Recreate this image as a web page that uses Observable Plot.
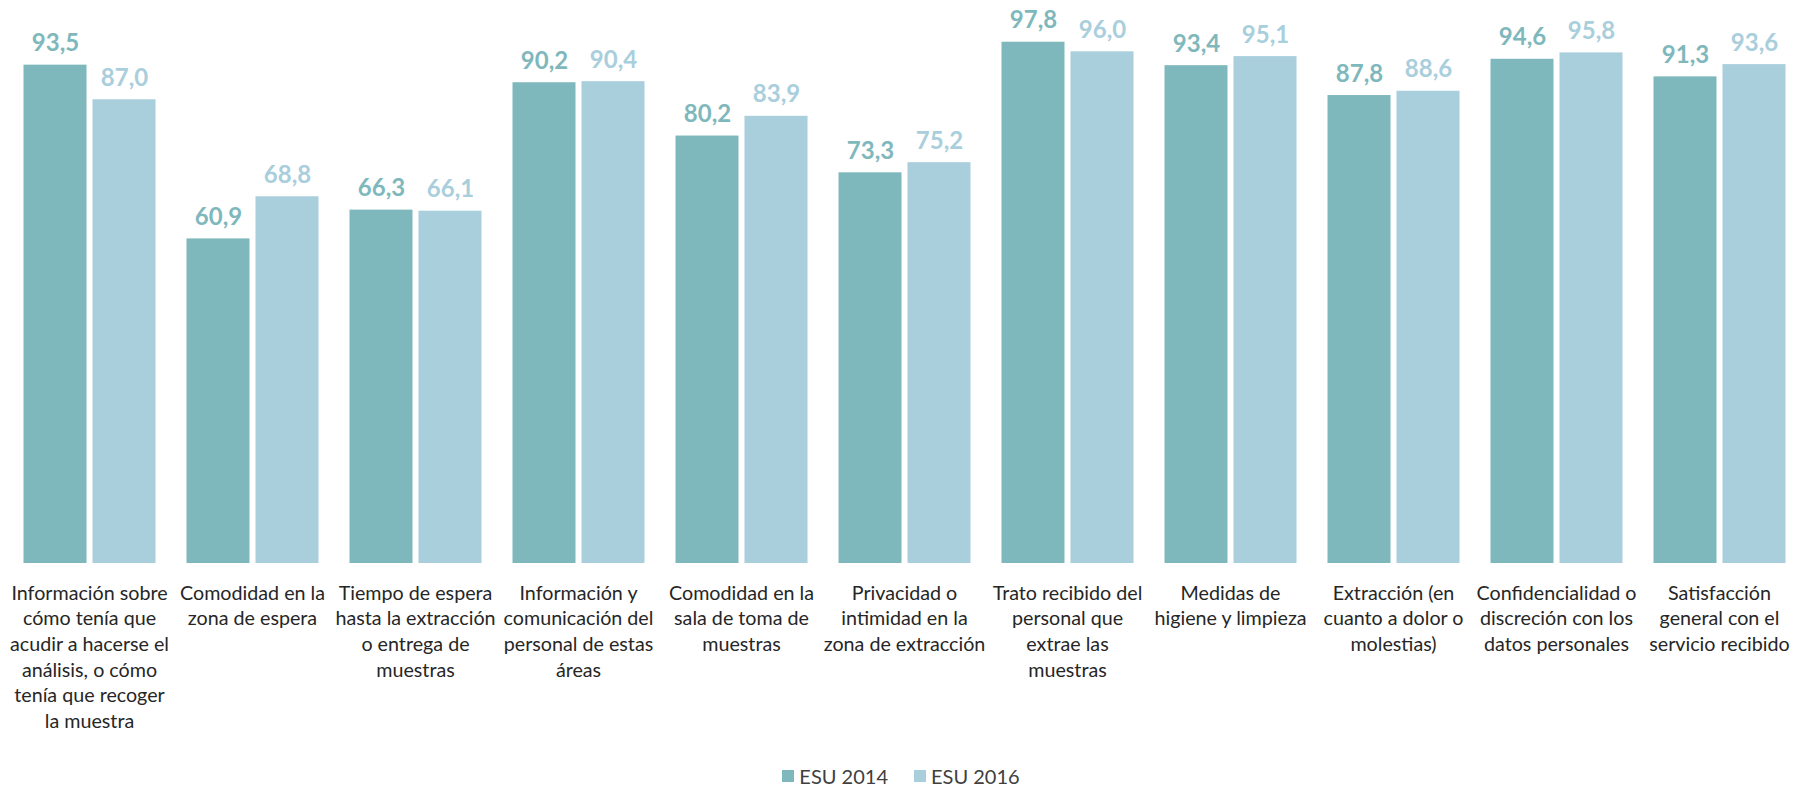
<!DOCTYPE html>
<html><head><meta charset="utf-8">
<script src="https://cdn.jsdelivr.net/npm/d3@7"></script>
<script src="https://cdn.jsdelivr.net/npm/@observablehq/plot@0.6"></script>
<style>
html,body{margin:0;padding:0;background:#fff;}
#chart svg{display:block;}
#legend{height:40px;display:flex;justify-content:center;align-items:flex-start;font-family:Lato,sans-serif;font-size:20px;color:#404040;}
#legend .item{display:flex;align-items:center;margin:0 13px;line-height:24px;margin-top:16px;}
#legend .sw{width:12px;height:12px;margin-right:5px;display:inline-block;}
</style></head><body>
<div id="chart"></div>
<div id="legend"></div>
<script>
const categories = [
  "Información sobre\ncómo tenía que\nacudir a hacerse el\nanálisis, o cómo\ntenía que recoger\nla muestra",
  "Comodidad en la\nzona de espera",
  "Tiempo de espera\nhasta la extracción\no entrega de\nmuestras",
  "Información y\ncomunicación del\npersonal de estas\náreas",
  "Comodidad en la\nsala de toma de\nmuestras",
  "Privacidad o\nintimidad en la\nzona de extracción",
  "Trato recibido del\npersonal que\nextrae las\nmuestras",
  "Medidas de\nhigiene y limpieza",
  "Extracción (en\ncuanto a dolor o\nmolestias)",
  "Confidencialidad o\ndiscreción con los\ndatos personales",
  "Satisfacción\ngeneral con el\nservicio recibido"
];
const series = ["ESU 2014", "ESU 2016"];
const esu2014 = [93.5, 60.9, 66.3, 90.2, 80.2, 73.3, 97.8, 93.4, 87.8, 94.6, 91.3];
const esu2016 = [87.0, 68.8, 66.1, 90.4, 83.9, 75.2, 96.0, 95.1, 88.6, 95.8, 93.6];
const colors = ["#7fb8bc", "#a9cedc"];

const data = categories.flatMap((c, i) => [
  {cat: c, series: series[0], value: esu2014[i]},
  {cat: c, series: series[1], value: esu2016[i]}
]);

const chart = Plot.plot({
  width: 1802, height: 748,
  marginTop: 30, marginBottom: 185, marginLeft: 7.5, marginRight: 1.5,
  style: {fontFamily: "Lato, sans-serif", background: "white", color: "#262626", overflow: "visible"},
  fx: {domain: categories, paddingInner: 0.19, paddingOuter: 0.095, label: null},
  x: {domain: series, paddingInner: 0.0909, paddingOuter: 0, axis: null},
  y: {domain: [0, 100], axis: null},
  color: {domain: series, range: colors},
  marks: [
    Plot.barY(data, {fx: "cat", x: "series", y: "value", fill: "series"}),
    Plot.text(data, {fx: "cat", x: "series", y: "value",
      text: d => d.value.toFixed(1).replace(".", ","),
      fill: "series", lineAnchor: "bottom", dy: -14, fontSize: 24, fontWeight: "bold"}),
    Plot.axisFx({anchor: "bottom", tickSize: 0, tickPadding: 18, fontSize: 19.7, lineHeight: 1.3, label: null, fill: "#262626"})
  ]
});
document.getElementById("chart").appendChild(chart);

const legend = document.getElementById("legend");
series.forEach((s, i) => {
  const item = document.createElement("div");
  item.className = "item";
  const sw = document.createElement("span");
  sw.className = "sw";
  sw.style.background = colors[i];
  item.appendChild(sw);
  item.appendChild(document.createTextNode(s));
  legend.appendChild(item);
});
</script>
</body></html>
